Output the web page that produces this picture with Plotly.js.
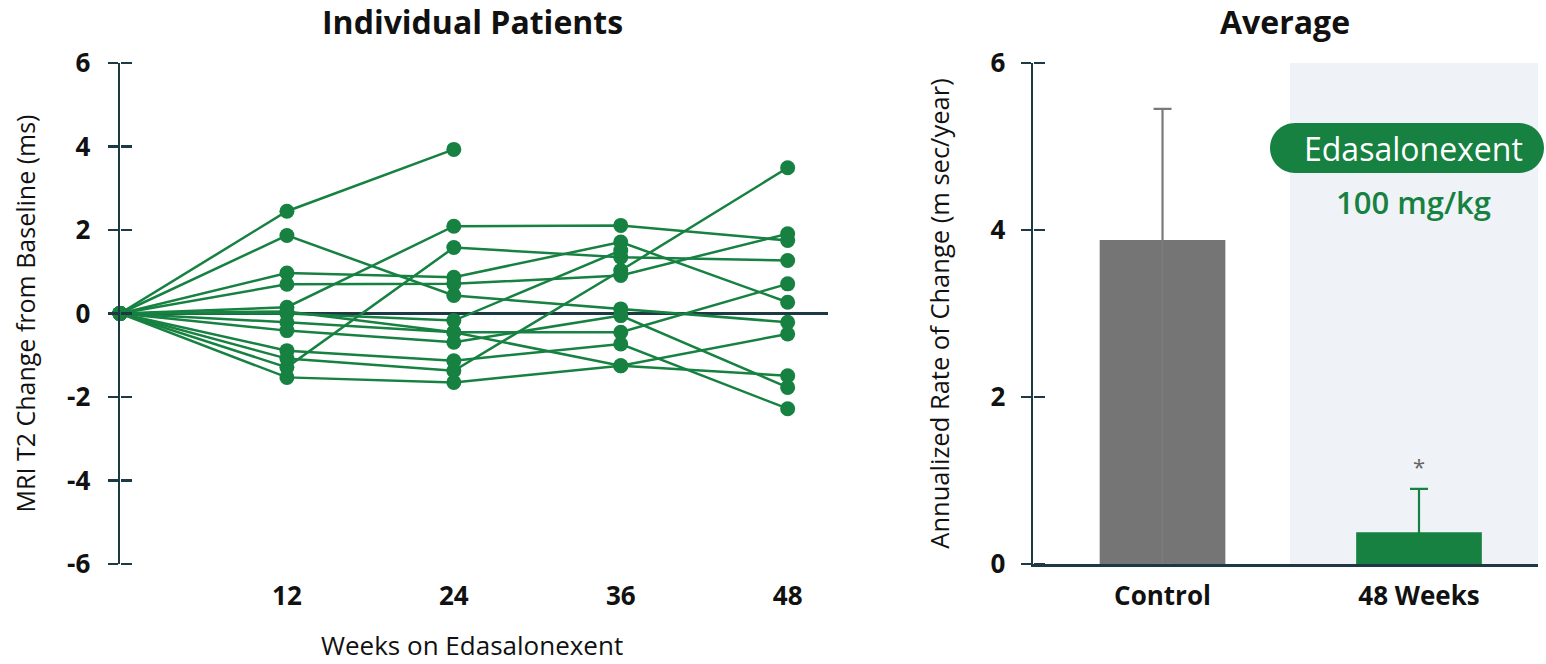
<!DOCTYPE html>
<html>
<head>
<meta charset="utf-8">
<script src="https://cdn.plot.ly/plotly-3.0.1.min.js"></script>
<style>html,body{margin:0;padding:0;background:#fff;}#chart{width:1546px;height:664px;}</style>
</head>
<body>
<div id="chart"></div>
<script>
// ---- Data: individual patients (MRI T2 change, ms) ----
const weeks = [0, 12, 24, 36, 48];
const p1  = [0,  2.45,  3.93, null, null];
const p2  = [0,  1.87,  0.43,  0.11, -0.21];
const p3  = [0,  0.15,  2.09,  2.11,  1.75];
const p4  = [0, -1.29,  1.58,  1.35,  1.27];
const p5  = [0,  0.97,  0.87,  1.71,  0.27];
const p6  = [0,  0.70,  0.71,  0.91,  1.91];
const p7  = [0,  0.00, -0.17,  1.51, null];
const p8  = [0, -1.08, -1.37,  1.03,  3.49];
const p9  = [0, -0.21, -0.45, -1.25, -0.49];
const p10 = [0, -0.41, -0.69, -0.05, -1.77];
const p11 = [0, -0.89, -1.13, -0.73, -2.28];
const p12 = [0, -1.53, -1.65, -1.25, -1.49];
const p13 = [0,  0.05, -0.45, -0.45,  0.71];
const patients = [p1, p2, p3, p4, p5, p6, p7, p8, p9, p10, p11, p12, p13];
const weekTickVals = [12, 24, 36, 48];
const leftYTicks = [-6, -4, -2, 0, 2, 4, 6];

// ---- Data: average annualized rate of change ----
const barCategories = ['Control', '48 Weeks'];
const barValues = [3.88, 0.38];
const barErrors = [1.57, 0.52];
const rightYTicks = [0, 2, 4, 6];

// ---- Styles ----
const GREEN = '#168140';
const GREY = '#757575';
const AXIS = '#1d3a44';
const FONT = 'Open Sans, Noto Sans, sans-serif';
const W = 1546, H = 664;
const px = v => v / W;
const py = v => 1 - v / H;
const TICKFONT = {size: 26, family: FONT, color: '#111', weight: 700};
const LEFT_AXIS_X = 120, RIGHT_AXIS_X = 1033;

const traces = patients.map(vals => ({
  type: 'scatter', mode: 'lines+markers', x: weeks, y: vals,
  xaxis: 'x', yaxis: 'y', cliponaxis: false, connectgaps: false,
  line: {color: GREEN, width: 2.5}, marker: {color: GREEN, size: 15},
  hoverinfo: 'skip', showlegend: false
}));

const barColors = [GREY, GREEN];
const errColors = ['#7a7a7a', GREEN];
barCategories.forEach((c, i) => {
  traces.push({
    type: 'bar', x: [c], y: [barValues[i]], xaxis: 'x2', yaxis: 'y2',
    width: 0.49, marker: {color: barColors[i]},
    error_y: {type: 'data', array: [barErrors[i]], symmetric: false, arrayminus: [barValues[i]],
              color: errColors[i], thickness: 2.2, width: 9},
    showlegend: false, hoverinfo: 'skip'
  });
});

// invisible helper traces so the crossing tick axes get drawn
traces.push({type: 'scatter', mode: 'markers', x: [weeks[0]], y: [p1[0]], xaxis: 'x', yaxis: 'y3',
             marker: {opacity: 0}, showlegend: false, hoverinfo: 'skip'});
traces.push({type: 'scatter', mode: 'markers', x: [barCategories[0]], y: [0], xaxis: 'x2', yaxis: 'y4',
             marker: {opacity: 0}, showlegend: false, hoverinfo: 'skip'});

const yDomain = [py(564), py(63)];
const axisCommon = {showgrid: false, zeroline: false, fixedrange: true};

const layout = {
  width: W, height: H,
  margin: {l: 0, r: 0, t: 0, b: 0},
  paper_bgcolor: '#fff', plot_bgcolor: 'rgba(0,0,0,0)',
  font: {family: FONT, color: '#111'},
  barmode: 'overlay',
  showlegend: false,
  xaxis: Object.assign({}, axisCommon, {
    domain: [px(LEFT_AXIS_X), px(828)], range: [0, 50.9], anchor: 'y',
    showline: false, ticks: '', tickvals: weekTickVals, ticktext: weekTickVals.map(String),
    tickfont: TICKFONT, ticklabelstandoff: 14
  }),
  yaxis: Object.assign({}, axisCommon, {
    domain: yDomain, range: [-6, 6], anchor: 'x',
    zeroline: true, zerolinecolor: AXIS, zerolinewidth: 2.5,
    showline: true, linecolor: AXIS, linewidth: 2.5,
    ticks: 'outside', ticklen: 10, tickwidth: 2.5, tickcolor: AXIS,
    tickvals: leftYTicks, ticktext: leftYTicks.map(String),
    tickfont: TICKFONT, ticklabelstandoff: 12,
    title: {text: 'MRI T2 Change from Baseline (ms)', font: {size: 25, family: FONT, color: '#111'}, standoff: 25}
  }),
  yaxis3: Object.assign({}, axisCommon, {
    domain: yDomain, range: [-6, 6], anchor: 'free', position: px(LEFT_AXIS_X),
    overlaying: 'y', side: 'right',
    showline: false, ticks: 'outside', ticklen: 11, tickwidth: 2.5, tickcolor: AXIS,
    tickvals: leftYTicks, showticklabels: false
  }),
  xaxis2: Object.assign({}, axisCommon, {
    domain: [px(RIGHT_AXIS_X), px(1538)], range: [-0.505, 1.464], anchor: 'y2', type: 'category',
    showline: true, linecolor: AXIS, linewidth: 2.5, ticks: '',
    tickfont: TICKFONT, ticklabelstandoff: 7
  }),
  yaxis2: Object.assign({}, axisCommon, {
    domain: yDomain, range: [0, 6], anchor: 'x2',
    showline: true, linecolor: AXIS, linewidth: 2.5,
    ticks: 'outside', ticklen: 10, tickwidth: 2.5, tickcolor: AXIS,
    tickvals: rightYTicks, ticktext: rightYTicks.map(String),
    tickfont: TICKFONT, ticklabelstandoff: 10,
    title: {text: 'Annualized Rate of Change (m sec/year)', font: {size: 25.5, family: FONT, color: '#111'}, standoff: 34}
  }),
  yaxis4: Object.assign({}, axisCommon, {
    domain: yDomain, range: [0, 6], anchor: 'free', position: px(RIGHT_AXIS_X),
    overlaying: 'y2', side: 'right',
    showline: false, ticks: 'outside', ticklen: 11, tickwidth: 2.5, tickcolor: AXIS,
    tickvals: rightYTicks, showticklabels: false
  }),
  shapes: [
    {type: 'rect', xref: 'x2 domain', yref: 'y2 domain', x0: 0.509, x1: 1, y0: 0, y1: 1,
     fillcolor: '#eff3f7', line: {width: 0}, layer: 'below'},
    {type: 'path', xref: 'paper', yref: 'paper', xsizemode: 'pixel', ysizemode: 'pixel',
     xanchor: px(1407), yanchor: py(148),
     path: 'M -112,-25 L 112,-25 C 125.8,-25 137,-13.8 137,0 C 137,13.8 125.8,25 112,25 L -112,25 C -125.8,25 -137,13.8 -137,0 C -137,-13.8 -125.8,-25 -112,-25 Z',
     fillcolor: GREEN, line: {width: 0}, layer: 'above'}
  ],
  annotations: [
    {text: '<b>Individual Patients</b>', xref: 'paper', yref: 'paper', x: px(472), y: py(22),
     xanchor: 'center', yanchor: 'middle',
     showarrow: false, font: {size: 32, family: FONT, color: '#111'}},
    {text: '<b>Average</b>', xref: 'paper', yref: 'paper', x: px(1285), y: py(22),
     xanchor: 'center', yanchor: 'middle',
     showarrow: false, font: {size: 32, family: FONT, color: '#111'}},
    {text: 'Weeks on Edasalonexent', xref: 'paper', yref: 'paper', x: px(472), y: 0,
     xanchor: 'center', yanchor: 'bottom', borderpad: 0,
     showarrow: false, font: {size: 26, family: FONT, color: '#111'}},
    {text: 'Edasalonexent', xref: 'paper', yref: 'paper', x: px(1413), y: py(148),
     xanchor: 'center', yanchor: 'middle',
     showarrow: false, font: {size: 32, family: FONT, color: '#fff'}},
    {text: '100 mg/kg', xref: 'paper', yref: 'paper', x: px(1413), y: py(202),
     xanchor: 'center', yanchor: 'middle',
     showarrow: false, font: {size: 31, family: FONT, color: GREEN, weight: 600}},
    {text: '*', xref: 'x2', yref: 'y2', x: barCategories[1], y: barValues[1] + barErrors[1],
     xanchor: 'center', yanchor: 'bottom', yshift: 6, showarrow: false,
     font: {size: 22, family: FONT, color: '#666'}}
  ]
};

Plotly.newPlot('chart', traces, layout, {displayModeBar: false, staticPlot: true});
</script>
</body>
</html>
